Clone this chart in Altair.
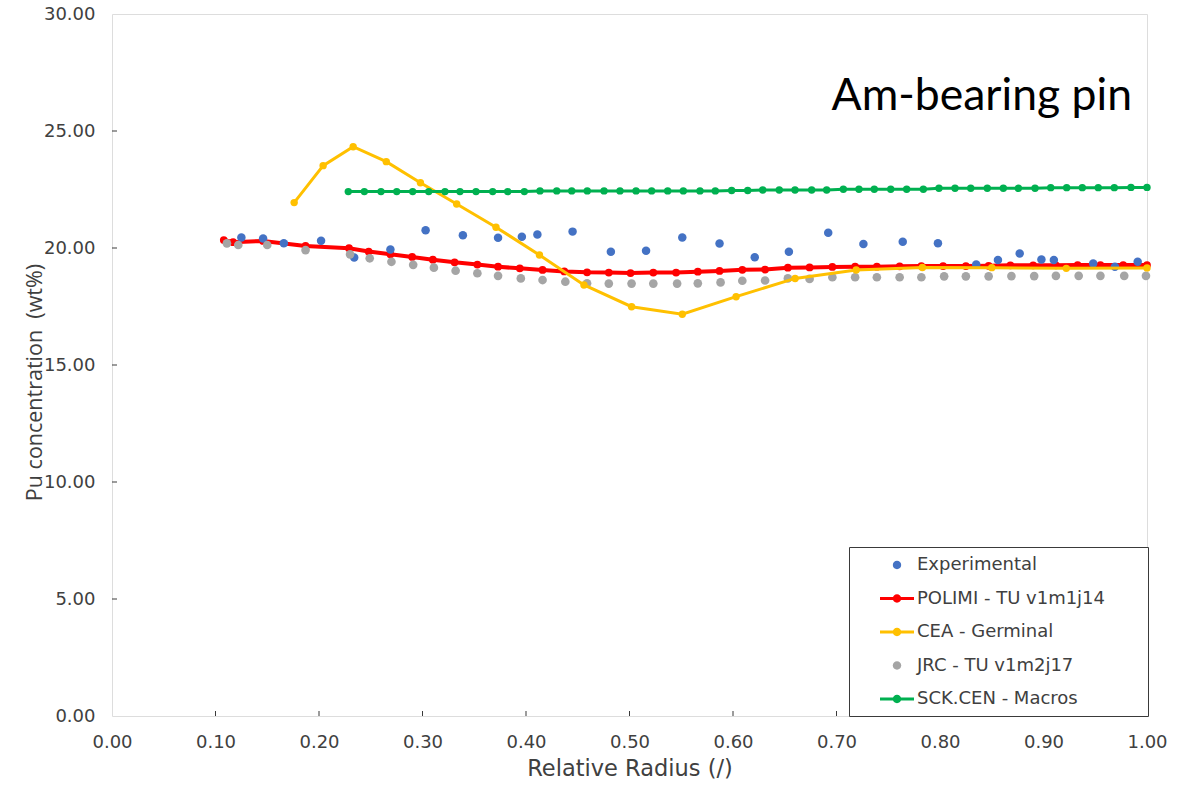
import altair as alt
import pandas as pd

# ---------------- data ----------------
series_names = ["Experimental", "POLIMI - TU v1m1j14", "CEA - Germinal",
                "JRC - TU v1m2j17", "SCK.CEN - Macros"]
series_colors = ["#4472C4", "#FF0000", "#FFC000", "#A5A5A5", "#00B050"]

x_tick_values = [0.0, 0.1, 0.2, 0.3, 0.4, 0.5, 0.6, 0.7, 0.8, 0.9, 1.0]
y_tick_values = [0, 5, 10, 15, 20, 25, 30]
x_inner_ticks = [0.1, 0.2, 0.3, 0.4, 0.5, 0.6, 0.7, 0.8, 0.9]
y_inner_ticks = [5, 10, 15, 20, 25]

exp_x = [0.125, 0.146, 0.166, 0.202, 0.234, 0.269, 0.303, 0.339, 0.373,
         0.396, 0.411, 0.445, 0.482, 0.516, 0.551, 0.587, 0.621,
         0.654, 0.692, 0.726, 0.764, 0.798, 0.835, 0.856, 0.877, 0.898,
         0.910, 0.948, 0.969, 0.991]
exp_y = [20.45, 20.41, 20.20, 20.31, 19.59, 19.94, 20.76, 20.54, 20.44,
         20.48, 20.58, 20.70, 19.84, 19.88, 20.45, 20.19, 19.60,
         19.84, 20.65, 20.17, 20.27, 20.20, 19.29, 19.49, 19.77, 19.51,
         19.49, 19.34, 19.20, 19.41]

polimi_x = [0.108, 0.117, 0.146, 0.187, 0.229, 0.248, 0.269, 0.290, 0.310,
            0.331, 0.353, 0.373, 0.394, 0.416, 0.437, 0.459, 0.480, 0.501,
            0.523, 0.545, 0.566, 0.587, 0.609, 0.631, 0.653, 0.674, 0.696,
            0.718, 0.739, 0.761, 0.782, 0.803, 0.825, 0.847, 0.868, 0.890,
            0.912, 0.933, 0.955, 0.977, 1.000]
polimi_y = [20.34, 20.25, 20.30, 20.09, 19.99, 19.85, 19.73, 19.62, 19.50,
            19.39, 19.29, 19.20, 19.13, 19.06, 19.00, 18.96, 18.95, 18.93,
            18.95, 18.95, 18.99, 19.02, 19.07, 19.08, 19.16, 19.17, 19.19,
            19.20, 19.20, 19.22, 19.23, 19.23, 19.23, 19.24, 19.26, 19.26,
            19.26, 19.27, 19.27, 19.27, 19.27]

cea_x = [0.176, 0.204, 0.233, 0.265, 0.298, 0.333, 0.371, 0.413, 0.456,
         0.502, 0.551, 0.603, 0.660, 0.719, 0.783, 0.850, 0.922, 1.000]
cea_y = [21.94, 23.52, 24.33, 23.69, 22.79, 21.88, 20.89, 19.70, 18.42,
         17.49, 17.17, 17.92, 18.70, 19.06, 19.17, 19.16, 19.13, 19.15]

jrc_x = [0.111, 0.122, 0.150, 0.187, 0.230, 0.249, 0.270, 0.291, 0.311,
         0.332, 0.353, 0.373, 0.395, 0.416, 0.438, 0.459, 0.480, 0.502,
         0.523, 0.546, 0.566, 0.588, 0.609, 0.631, 0.653, 0.674, 0.696,
         0.718, 0.739, 0.761, 0.782, 0.804, 0.825, 0.847, 0.869, 0.891,
         0.912, 0.934, 0.955, 0.978, 0.999]
jrc_y = [20.20, 20.13, 20.13, 19.91, 19.73, 19.56, 19.41, 19.28, 19.16,
         19.03, 18.92, 18.81, 18.70, 18.63, 18.56, 18.49, 18.48, 18.48,
         18.48, 18.48, 18.49, 18.53, 18.60, 18.61, 18.70, 18.68, 18.75,
         18.75, 18.75, 18.75, 18.75, 18.79, 18.79, 18.79, 18.80, 18.80,
         18.81, 18.81, 18.81, 18.81, 18.81]

sck_x = [0.2283, 0.2438, 0.2599, 0.2751, 0.2905, 0.3060, 0.3217, 0.3362,
         0.3517, 0.3678, 0.3823, 0.3984, 0.4135, 0.4297, 0.4442, 0.4592,
         0.4754, 0.4908, 0.5063, 0.5214, 0.5369, 0.5520, 0.5681, 0.5829,
         0.5987, 0.6142, 0.6287, 0.6447, 0.6599, 0.6760, 0.6905, 0.7066,
         0.7217, 0.7365, 0.7524, 0.7678, 0.7839, 0.7990, 0.8145, 0.8297,
         0.8457, 0.8612, 0.8757, 0.8918, 0.9070, 0.9224, 0.9375, 0.9529,
         0.9684, 0.9845, 1.0000]
sck_y = [22.41, 22.41, 22.41, 22.41, 22.41, 22.41, 22.41, 22.41,
         22.41, 22.41, 22.41, 22.41, 22.44, 22.44, 22.44, 22.44,
         22.44, 22.44, 22.44, 22.44, 22.44, 22.44, 22.44, 22.44,
         22.46, 22.46, 22.48, 22.48, 22.48, 22.48, 22.48, 22.51,
         22.51, 22.51, 22.51, 22.51, 22.51, 22.55, 22.55, 22.55,
         22.55, 22.55, 22.55, 22.55, 22.58, 22.58, 22.58, 22.58,
         22.58, 22.59, 22.59]


def frame(name, xs, ys):
    return pd.DataFrame({"r": xs, "pu": ys, "series": name})


df = pd.concat([
    frame(series_names[0], exp_x, exp_y),
    frame(series_names[1], polimi_x, polimi_y),
    frame(series_names[2], cea_x, cea_y),
    frame(series_names[3], jrc_x, jrc_y),
    frame(series_names[4], sck_x, sck_y),
], ignore_index=True)

x_ticks_df = pd.DataFrame({"r": x_inner_ticks})
y_ticks_df = pd.DataFrame({"pu": y_inner_ticks})

# ---------------- styling ----------------
TXT = "#404040"
FRAME = "#3a3a3a"

line_dot = ("M -1.7 -0.15 L 1.7 -0.15 L 1.7 0.15 L -1.7 0.15 Z "
            "M -0.42 0 A 0.42 0.42 0 1 1 0.42 0 A 0.42 0.42 0 1 1 -0.42 0 Z")
dot = "M -0.42 0 A 0.42 0.42 0 1 1 0.42 0 A 0.42 0.42 0 1 1 -0.42 0 Z"
legend_shapes = [dot, line_dot, line_dot, dot, line_dot]

x_enc = alt.X(
    "r:Q",
    scale=alt.Scale(domain=[0, 1], nice=False, zero=False),
    axis=alt.Axis(
        values=x_tick_values, format=".2f", title="Relative Radius (/)",
        grid=False, domain=False, ticks=False, tickSize=0,
        labelFlush=False, labelOverlap=False, labelPadding=17,
        labelFont="DejaVu Sans", labelFontSize=18, labelColor=TXT,
        titleFont="DejaVu Sans", titleFontSize=22.5, titleFontWeight="normal",
        titleColor=TXT, titleBaseline="alphabetic", titleY=59,
    ),
)
y_enc = alt.Y(
    "pu:Q",
    scale=alt.Scale(domain=[0, 30], nice=False, zero=False),
    axis=alt.Axis(
        values=y_tick_values, format=".2f",
        title="Pu concentration \u00a0(wt%)",
        grid=False, domain=False, ticks=False, tickSize=0,
        labelFlush=False, labelOverlap=False, labelPadding=17,
        labelFont="DejaVu Sans", labelFontSize=18, labelColor=TXT,
        titleFont="Open Sans", titleFontSize=21.5, titleFontWeight="normal",
        titleColor=TXT, titleBaseline="alphabetic", titleX=-71, titleY=368,
    ),
)

# trailing blank room inside the legend box (a zero-width char keeps it from being trimmed)
legend = alt.Legend(
    title=None, orient="none", legendX=737, legendY=533,
    padding=8, rowPadding=14.5, symbolOffset=30, labelOffset=10,
    labelFont="DejaVu Sans", labelFontSize=18, labelColor=TXT, labelLimit=500,
    labelExpr="datum.label + '" + "\u00a0" * 6 + "\u200b'",
    strokeColor=FRAME, fillColor="white", cornerRadius=0,
    symbolSize=400, symbolStrokeWidth=0, symbolOpacity=1,
)

base = alt.Chart(df)


def only(i):
    return alt.FieldEqualPredicate(field="series", equal=series_names[i])


def line_layer(i, width):
    return base.transform_filter(only(i)).mark_line(
        strokeWidth=width, color=series_colors[i]).encode(x=x_enc, y=y_enc)


def point_layer(i, size):
    return base.transform_filter(only(i)).mark_point(
        filled=True, size=size, opacity=1, strokeWidth=0,
        color=series_colors[i]).encode(x=x_enc, y=y_enc)


# legend-only layer: no rows survive the filter, the legend comes from the scales
legend_layer = base.transform_filter("false").mark_point(
    filled=True, size=400, opacity=1).encode(
    x=x_enc, y=y_enc,
    color=alt.Color("series:N", scale=alt.Scale(domain=series_names, range=series_colors),
                    legend=legend),
    shape=alt.Shape("series:N", scale=alt.Scale(domain=series_names, range=legend_shapes),
                    legend=legend),
)

x_ticks = alt.Chart(x_ticks_df).mark_tick(
    orient="vertical", size=5, thickness=1, color=FRAME, yOffset=-2.5, opacity=1
).encode(x=alt.X("r:Q"), y=alt.datum(0))
y_ticks = alt.Chart(y_ticks_df).mark_tick(
    orient="horizontal", size=5, thickness=1, color=FRAME, xOffset=2.5, opacity=1
).encode(y=alt.Y("pu:Q"), x=alt.datum(0))

chart = alt.layer(
    line_layer(1, 4),
    point_layer(1, 60),
    point_layer(0, 72),
    point_layer(3, 75),
    line_layer(2, 3),
    point_layer(2, 55),
    line_layer(4, 3),
    point_layer(4, 55),
    x_ticks,
    y_ticks,
    legend_layer,
).properties(
    width=1035,
    height=702,
    padding={"left": 112, "top": 14, "right": 48, "bottom": 69},
    autosize=alt.AutoSizeParams(type="none"),
    title=alt.TitleParams(
        "Am-bearing pin", anchor="end", orient="top", frame="group",
        font="Lato", fontSize=44.5, fontWeight="normal", color="black",
        baseline="alphabetic", offset=0, dy=149, dx=-15,
    ),
).configure_view(
    stroke=FRAME, strokeWidth=2
).configure(background="white")

chart.save("out.html", embed_options={"renderer": "svg", "actions": False})
